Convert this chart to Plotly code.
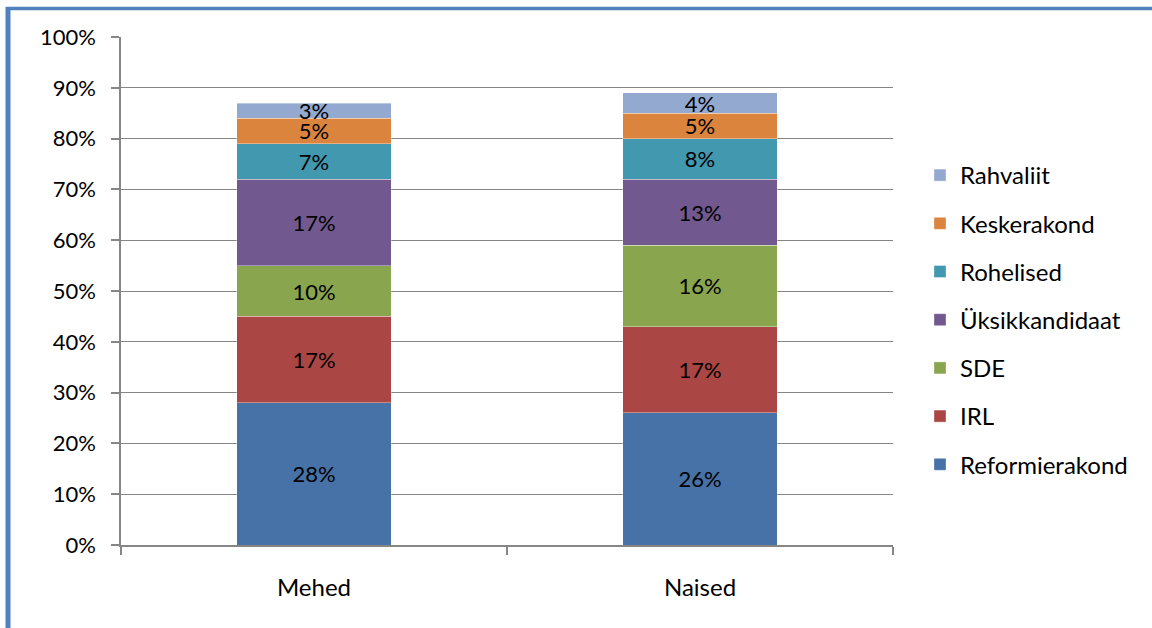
import plotly.graph_objects as go

categories = ["Mehed", "Naised"]
parties = ["Reformierakond", "IRL", "SDE", "Üksikkandidaat", "Rohelised", "Keskerakond", "Rahvaliit"]
values = {
    "Reformierakond": [28, 26],
    "IRL": [17, 17],
    "SDE": [10, 16],
    "Üksikkandidaat": [17, 13],
    "Rohelised": [7, 8],
    "Keskerakond": [5, 5],
    "Rahvaliit": [3, 4],
}
colors = {
    "Reformierakond": "#4672A8",
    "IRL": "#AA4643",
    "SDE": "#89A54E",
    "Üksikkandidaat": "#71588F",
    "Rohelised": "#4198AF",
    "Keskerakond": "#DB843D",
    "Rahvaliit": "#93A9CF",
}
y_ticks = list(range(0, 101, 10))

FONT = "Lato"
FS_NUM = 22
FS_TXT = 24

fig = go.Figure()
n = len(parties)
for i, p in enumerate(parties):
    fig.add_trace(go.Bar(
        name=p,
        x=categories,
        y=values[p],
        marker=dict(color=colors[p], line=dict(width=0.6, color="rgba(255,255,255,0.6)")),
        text=[f"{v}%" for v in values[p]],
        textposition="inside",
        insidetextanchor="middle",
        textangle=0,
        textfont=dict(color="black", size=FS_NUM, family=FONT),
        legendgroup=p,
        legendrank=n - i,
        hoverinfo="skip",
    ))

W, H = 1152, 628
ml, mr, mt, mb = 121, 259, 37, 83
pw, ph = W - ml - mr, H - mt - mb

def px_x(x):
    return (x - ml) / pw

def px_y(y):
    return 1 - (y - mt) / ph

frame = "#4F81BD"
fig.add_shape(type="line", xref="paper", yref="paper",
              x0=px_x(6), x1=px_x(W + 5), y0=px_y(8.5), y1=px_y(8.5),
              line=dict(color=frame, width=3.5))
fig.add_shape(type="line", xref="paper", yref="paper",
              x0=px_x(8), x1=px_x(8), y0=px_y(7), y1=px_y(H + 5),
              line=dict(color=frame, width=5))

fig.update_layout(
    width=W, height=H,
    margin=dict(l=ml, r=mr, t=mt, b=mb),
    barmode="stack",
    bargap=0.6,
    plot_bgcolor="white",
    paper_bgcolor="white",
    font=dict(family=FONT, size=FS_TXT, color="black"),
    uniformtext=dict(minsize=FS_NUM, mode="show"),
    showlegend=True,
    legend=dict(
        traceorder="grouped",
        tracegroupgap=14,
        x=px_x(920), xanchor="left",
        y=px_y(153), yanchor="top",
        font=dict(family=FONT, size=FS_TXT, color="black"),
        itemwidth=30,
        bgcolor="rgba(0,0,0,0)",
    ),
    xaxis=dict(
        type="category",
        showline=True, linecolor="#868686", linewidth=1.5,
        ticks="outside", tickson="boundaries", ticklen=8, tickcolor="#868686", tickwidth=1.5,
        showgrid=False,
        ticklabelstandoff=20,
        tickfont=dict(family=FONT, size=FS_TXT, color="black"),
    ),
    yaxis=dict(
        range=[0, 100],
        tickvals=y_ticks,
        ticktext=[f"{v}%" for v in y_ticks],
        showline=True, linecolor="#868686", linewidth=1.5,
        ticks="outside", ticklen=8, tickcolor="#868686", tickwidth=1.5,
        showgrid=True, gridcolor="#868686", gridwidth=1.2,
        zeroline=False,
        ticklabelstandoff=11,
        tickfont=dict(family=FONT, size=FS_NUM, color="black"),
    ),
)

fig.write_html("out.html", config={"displayModeBar": False},
               post_script="document.body.style.margin='0px';")
